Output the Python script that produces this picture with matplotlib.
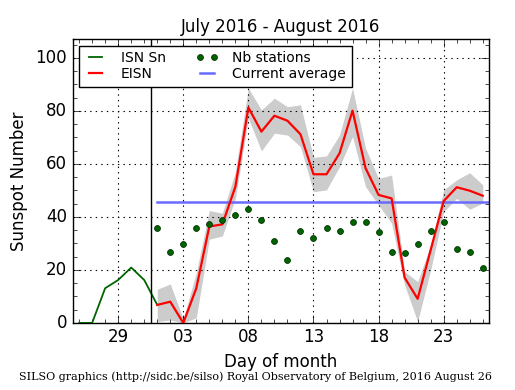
import matplotlib
matplotlib.use("Agg")
import matplotlib.pyplot as plt
import numpy as np

# day offsets: 0 = 2016-08-01
isn_days = [-6, -5, -4, -3, -2, -1, 0]
isn_vals = [0, 0, 13.1, 16.2, 20.9, 16.2, 6.8]

eisn_days = list(range(0, 26))
eisn_vals = [6.8, 8.0, 0.0, 13.1, 36.4, 37.2, 51.4, 81.3, 72.2, 78.2, 76.3, 71.2,
             56.1, 56.1, 64.0, 80.1, 58.4, 48.3, 47.0, 17.1, 9.1, 27.5, 46.0, 51.2,
             49.9, 48.0]
eisn_upper = [12.7, 14.7, 1.5, 19.0, 42.4, 41.4, 57.0, 88.6, 80.4, 84.8, 81.6, 82.3,
              62.5, 63.0, 70.9, 88.6, 65.9, 54.5, 55.8, 19.4, 15.6, 29.4, 50.2, 54.0,
              56.7, 52.1]
eisn_lower = [0.5, 1.1, 0.0, 2.0, 31.6, 32.8, 47.0, 77.2, 64.9, 71.6, 70.9, 66.5,
              49.5, 50.2, 59.0, 70.3, 51.4, 44.5, 37.6, 14.3, 0.5, 20.0, 42.0, 47.0,
              42.9, 45.2]
nb_stations = [36.0, 26.9, 29.9, 36.0, 37.2, 38.9, 40.9, 43.1, 39.0, 31.1, 23.9, 34.8,
               32.2, 36.0, 34.8, 37.9, 37.9, 34.2, 26.9, 26.2, 29.9, 34.8, 37.9, 28.0,
               26.9, 20.9]
current_average = 45.5

tick_days = [-3, 2, 7, 12, 17, 22]
tick_labels = ["29", "03", "08", "13", "18", "23"]

plt.style.use("classic")
fig = plt.figure(figsize=(5.15, 3.9), dpi=100)
fig.patch.set_facecolor("white")
ax = fig.add_axes([0.141, 0.172, 0.809, 0.727])

ax.fill_between(eisn_days, eisn_lower, eisn_upper, color="#cccccc", lw=0, zorder=1)
ax.plot(isn_days, isn_vals, color="#006400", lw=1.3, label="ISN Sn", zorder=3)
ax.plot(eisn_days, eisn_vals, color="red", lw=1.6, label="EISN", zorder=4)
ax.plot(eisn_days, nb_stations, "o", color="#006400", markeredgecolor="#003300",
        markersize=4.2, markeredgewidth=0.6, label="Nb stations", zorder=5)
ax.plot([0, 26], [current_average, current_average], color="#6a6aff", lw=1.8,
        label="Current average", zorder=2)
ax.axvline(-0.5, color="black", lw=1, zorder=3)

ax.set_xlim(-6.5, 25.5)
ax.set_ylim(0, 107)
ax.set_xticks(tick_days)
ax.set_xticklabels(tick_labels)
ax.set_xticks(np.arange(-6, 26), minor=True)
ax.set_yticks([0, 20, 40, 60, 80, 100])
ax.set_yticks(np.arange(0, 107, 5), minor=True)
ax.tick_params(labelsize=12, direction="in", which="both", top=True, right=True)
ax.tick_params(which="major", length=6)
ax.tick_params(which="minor", length=3)
ax.grid(True, which="major", linestyle=":", color="black", lw=0.8)

ax.set_xlabel("Day of month", fontsize=12)
ax.set_ylabel("Sunspot Number", fontsize=12)
ax.set_title("July 2016 - August 2016", fontsize=12)

leg = ax.legend(loc="upper left", ncol=2, fontsize=10, numpoints=2,
                handlelength=1.6, borderaxespad=0.45, columnspacing=2.2,
                labelspacing=0.15, handletextpad=1.0, fancybox=False,
                borderpad=0.4, markerscale=1.0)
leg.get_frame().set_edgecolor("black")

fig.text(0.497, 0.025, "SILSO graphics (http://sidc.be/silso) Royal Observatory of Belgium, 2016 August 26",
         ha="center", fontsize=8, family="DejaVu Serif")

fig.savefig("out.png", dpi=100, facecolor="white")
